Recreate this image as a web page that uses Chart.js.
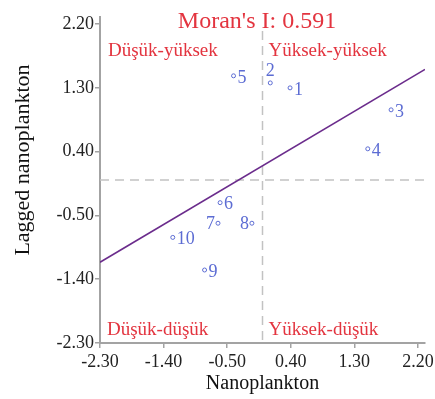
<!DOCTYPE html>
<html>
<head>
<meta charset="utf-8">
<script src="https://cdn.jsdelivr.net/npm/chart.js@4/dist/chart.umd.min.js"></script>
<style>
  html, body { margin: 0; padding: 0; background: #fff; }
  #wrap { width: 435px; height: 399px; }
</style>
</head>
<body>
<div id="wrap"><canvas id="c" width="435" height="399"></canvas></div>
<script>
// Station labels and their standardized / spatially lagged values
const stations = ['1', '2', '3', '4', '5', '6', '7', '8', '9', '10'];
const nanoplankton = [0.39, 0.11, 1.82, 1.49, -0.41, -0.60, -0.63, -0.15, -0.82, -1.27];
const laggedNanoplankton = [1.30, 1.37, 0.99, 0.44, 1.47, -0.32, -0.61, -0.61, -1.27, -0.81];

// Fitted line endpoints (slope = Moran's I)
const fitX = [-2.3, 2.3];
const fitY = [-1.16, 1.56];

// Axis tick values
const xTicks = [-2.30, -1.40, -0.50, 0.40, 1.30, 2.20];
const yTicks = [-2.30, -1.40, -0.50, 0.40, 1.30, 2.20];

const moranText = "Moran's I: 0.591";
const quadrantNames = ['Düşük-yüksek', 'Yüksek-yüksek', 'Düşük-düşük', 'Yüksek-düşük'];
const xTitle = 'Nanoplankton';
const yTitle = 'Lagged nanoplankton';

const SERIF = '"Liberation Serif", "DejaVu Serif", serif';
const RED = '#e3343f';
const BLUE = '#5c6cd3';
const AXIS = '#a3a3a3';

const points = nanoplankton.map((x, i) => ({ x: x, y: laggedNanoplankton[i] }));
const fitLine = fitX.map((x, i) => ({ x: x, y: fitY[i] }));

// Dashed zero lines drawn under the data
const zeroLines = {
  id: 'zeroLines',
  beforeDatasetsDraw(chart) {
    const { ctx, chartArea: a, scales: { x, y } } = chart;
    const x0 = x.getPixelForValue(0);
    const y0 = y.getPixelForValue(0);
    ctx.save();
    ctx.strokeStyle = '#c2c2c2';
    ctx.lineWidth = 1.5;
    ctx.setLineDash([9, 6]);
    ctx.beginPath();
    ctx.moveTo(x0, a.top + 14);
    ctx.lineTo(x0, a.bottom);
    ctx.moveTo(a.left, y0);
    ctx.lineTo(a.right, y0);
    ctx.stroke();
    ctx.restore();
  }
};

// Point labels, quadrant names, statistic and the y title
const annotations = {
  id: 'annotations',
  afterDatasetsDraw(chart, args, opts) {
    const { ctx, chartArea: a, scales: { x, y } } = chart;
    ctx.save();
    // station numbers
    ctx.font = '18px ' + SERIF;
    ctx.fillStyle = BLUE;
    ctx.textBaseline = 'middle';
    stations.forEach((name, i) => {
      const px = x.getPixelForValue(nanoplankton[i]);
      const py = y.getPixelForValue(laggedNanoplankton[i]);
      const side = opts.side[i];
      if (side === 'left') {
        ctx.textAlign = 'right';
        ctx.fillText(name, px - 3, py + 1);
      } else if (side === 'above') {
        ctx.textAlign = 'center';
        ctx.fillText(name, px, py - 12);
      } else {
        ctx.textAlign = 'left';
        ctx.fillText(name, px + 4, py + 2);
      }
    });

    // quadrant names
    const xMid = x.getPixelForValue(0);
    ctx.font = '19px ' + SERIF;
    ctx.fillStyle = RED;
    ctx.textAlign = 'left';
    ctx.textBaseline = 'alphabetic';
    ctx.fillText(quadrantNames[0], a.left + 8, a.top + 39);
    ctx.fillText(quadrantNames[1], xMid + 6, a.top + 39);
    ctx.fillText(quadrantNames[2], a.left + 7, a.bottom - 8);
    ctx.fillText(quadrantNames[3], xMid + 6, a.bottom - 8);

    // statistic
    ctx.font = '24px ' + SERIF;
    ctx.textAlign = 'center';
    ctx.fillText(moranText, 257, 28);

    // y axis title
    ctx.font = '22px ' + SERIF;
    ctx.fillStyle = '#111';
    ctx.translate(23, 160);
    ctx.rotate(-Math.PI / 2);
    ctx.textBaseline = 'middle';
    ctx.fillText(yTitle, 0, 0);
    ctx.restore();
  }
};

new Chart(document.getElementById('c'), {
  type: 'scatter',
  data: {
    datasets: [
      {
        data: points,
        pointRadius: 2,
        pointHoverRadius: 2,
        pointBackgroundColor: '#ffffff',
        pointBorderColor: BLUE,
        pointBorderWidth: 1,
        order: 1
      },
      {
        type: 'line',
        data: fitLine,
        borderColor: '#6b2c8c',
        borderWidth: 1.6,
        pointRadius: 0,
        fill: false,
        order: 2
      }
    ]
  },
  options: {
    responsive: false,
    animation: false,
    events: [],
    layout: { padding: { top: 17, right: 10, left: 0, bottom: 0 } },
    plugins: {
      legend: { display: false },
      title: { display: false },
      tooltip: { enabled: false },
      annotations: { side: ['right', 'above', 'right', 'right', 'right', 'right', 'left', 'left', 'right', 'right'] }
    },
    scales: {
      x: {
        type: 'linear',
        min: -2.3,
        max: 2.3,
        afterBuildTicks: s => { s.ticks = xTicks.map(v => ({ value: v })); },
        afterFit: s => { s.height = 56; s.paddingLeft = 0; s.paddingRight = 0; },
        ticks: {
          autoSkip: false,
          maxRotation: 0,
          padding: 3,
          color: '#222',
          font: { family: SERIF, size: 18 },
          callback: v => Number(v).toFixed(2)
        },
        grid: { drawOnChartArea: false, drawTicks: true, tickLength: 5, color: AXIS, lineWidth: 1.5 },
        border: { color: AXIS, width: 2 },
        title: {
          display: true,
          text: xTitle,
          color: '#111',
          font: { family: SERIF, size: 20 },
          padding: { top: 0, bottom: 3 }
        }
      },
      y: {
        type: 'linear',
        min: -2.3,
        max: 2.3,
        afterBuildTicks: s => { s.ticks = yTicks.map(v => ({ value: v })); },
        afterFit: s => { s.width = 100; s.paddingTop = 0; s.paddingBottom = 0; },
        ticks: {
          autoSkip: false,
          padding: 1,
          color: '#222',
          font: { family: SERIF, size: 18 },
          callback: v => Number(v).toFixed(2)
        },
        grid: { drawOnChartArea: false, drawTicks: true, tickLength: 5, color: AXIS, lineWidth: 1.5 },
        border: { color: AXIS, width: 2 }
      }
    }
  },
  plugins: [zeroLines, annotations]
});
</script>
</body>
</html>
